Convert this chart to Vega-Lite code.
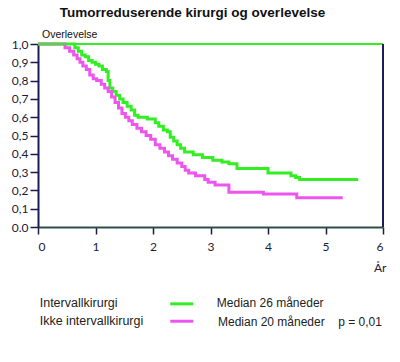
{
  "$schema": "https://vega.github.io/schema/vega-lite/v6.json",
  "width": 345,
  "height": 183,
  "autosize": {"type": "none"},
  "padding": {"left": 38, "top": 44, "right": 17, "bottom": 135},
  "background": "white",
  "title": {
    "text": "Tumorreduserende kirurgi og overlevelse",
    "font": "Liberation Sans",
    "fontSize": 13.5,
    "fontWeight": "bold",
    "color": "#111111",
    "anchor": "middle",
    "frame": "group",
    "baseline": "bottom",
    "offset": -3,
    "dx": -18
  },
  "config": {
    "view": {"stroke": null},
    "axis": {"grid": false, "labelOverlap": false, "title": null, "tickWidth": 1.5, "domainWidth": 2, "labelFont": "Lato", "labelFontSize": 12, "labelColor": "#1b1b3a", "tickColor": "#1b1b4a"},
    "axisX": {"domainColor": "#2a5048", "tickSize": 7, "labelPadding": 7},
    "axisY": {"domainColor": "#1b1b5a", "tickSize": 8, "labelPadding": 2}
  },
  "datasets": {
    "curves": [
      {"group": "Intervallkirurgi", "t": 0, "s": 1.0},
      {"group": "Intervallkirurgi", "t": 0.64, "s": 0.98},
      {"group": "Intervallkirurgi", "t": 0.70, "s": 0.96},
      {"group": "Intervallkirurgi", "t": 0.76, "s": 0.94},
      {"group": "Intervallkirurgi", "t": 0.82, "s": 0.93},
      {"group": "Intervallkirurgi", "t": 0.88, "s": 0.91},
      {"group": "Intervallkirurgi", "t": 0.94, "s": 0.90},
      {"group": "Intervallkirurgi", "t": 1.00, "s": 0.89},
      {"group": "Intervallkirurgi", "t": 1.06, "s": 0.88},
      {"group": "Intervallkirurgi", "t": 1.12, "s": 0.86},
      {"group": "Intervallkirurgi", "t": 1.19, "s": 0.85},
      {"group": "Intervallkirurgi", "t": 1.22, "s": 0.80},
      {"group": "Intervallkirurgi", "t": 1.25, "s": 0.76},
      {"group": "Intervallkirurgi", "t": 1.30, "s": 0.74},
      {"group": "Intervallkirurgi", "t": 1.36, "s": 0.72},
      {"group": "Intervallkirurgi", "t": 1.42, "s": 0.70},
      {"group": "Intervallkirurgi", "t": 1.48, "s": 0.68},
      {"group": "Intervallkirurgi", "t": 1.55, "s": 0.66},
      {"group": "Intervallkirurgi", "t": 1.62, "s": 0.64},
      {"group": "Intervallkirurgi", "t": 1.68, "s": 0.61},
      {"group": "Intervallkirurgi", "t": 1.74, "s": 0.60},
      {"group": "Intervallkirurgi", "t": 1.90, "s": 0.59},
      {"group": "Intervallkirurgi", "t": 2.04, "s": 0.57},
      {"group": "Intervallkirurgi", "t": 2.10, "s": 0.55},
      {"group": "Intervallkirurgi", "t": 2.18, "s": 0.53},
      {"group": "Intervallkirurgi", "t": 2.25, "s": 0.52},
      {"group": "Intervallkirurgi", "t": 2.30, "s": 0.49},
      {"group": "Intervallkirurgi", "t": 2.36, "s": 0.47},
      {"group": "Intervallkirurgi", "t": 2.42, "s": 0.45},
      {"group": "Intervallkirurgi", "t": 2.48, "s": 0.43},
      {"group": "Intervallkirurgi", "t": 2.55, "s": 0.41},
      {"group": "Intervallkirurgi", "t": 2.70, "s": 0.395},
      {"group": "Intervallkirurgi", "t": 2.86, "s": 0.38},
      {"group": "Intervallkirurgi", "t": 3.04, "s": 0.365},
      {"group": "Intervallkirurgi", "t": 3.20, "s": 0.355},
      {"group": "Intervallkirurgi", "t": 3.32, "s": 0.345},
      {"group": "Intervallkirurgi", "t": 3.46, "s": 0.32},
      {"group": "Intervallkirurgi", "t": 4.00, "s": 0.295},
      {"group": "Intervallkirurgi", "t": 4.40, "s": 0.28},
      {"group": "Intervallkirurgi", "t": 4.48, "s": 0.27},
      {"group": "Intervallkirurgi", "t": 4.55, "s": 0.26},
      {"group": "Intervallkirurgi", "t": 5.57, "s": 0.26},
      {"group": "Ikke intervallkirurgi", "t": 0, "s": 1.0},
      {"group": "Ikke intervallkirurgi", "t": 0.47, "s": 0.98},
      {"group": "Ikke intervallkirurgi", "t": 0.55, "s": 0.96},
      {"group": "Ikke intervallkirurgi", "t": 0.62, "s": 0.94},
      {"group": "Ikke intervallkirurgi", "t": 0.68, "s": 0.92},
      {"group": "Ikke intervallkirurgi", "t": 0.73, "s": 0.90},
      {"group": "Ikke intervallkirurgi", "t": 0.78, "s": 0.88},
      {"group": "Ikke intervallkirurgi", "t": 0.84, "s": 0.86},
      {"group": "Ikke intervallkirurgi", "t": 0.90, "s": 0.83},
      {"group": "Ikke intervallkirurgi", "t": 0.96, "s": 0.81},
      {"group": "Ikke intervallkirurgi", "t": 1.02, "s": 0.80},
      {"group": "Ikke intervallkirurgi", "t": 1.10, "s": 0.78},
      {"group": "Ikke intervallkirurgi", "t": 1.16, "s": 0.76},
      {"group": "Ikke intervallkirurgi", "t": 1.22, "s": 0.74},
      {"group": "Ikke intervallkirurgi", "t": 1.28, "s": 0.71},
      {"group": "Ikke intervallkirurgi", "t": 1.34, "s": 0.68},
      {"group": "Ikke intervallkirurgi", "t": 1.40, "s": 0.65},
      {"group": "Ikke intervallkirurgi", "t": 1.46, "s": 0.62},
      {"group": "Ikke intervallkirurgi", "t": 1.52, "s": 0.60},
      {"group": "Ikke intervallkirurgi", "t": 1.58, "s": 0.58},
      {"group": "Ikke intervallkirurgi", "t": 1.64, "s": 0.56},
      {"group": "Ikke intervallkirurgi", "t": 1.72, "s": 0.54},
      {"group": "Ikke intervallkirurgi", "t": 1.80, "s": 0.52},
      {"group": "Ikke intervallkirurgi", "t": 1.88, "s": 0.50},
      {"group": "Ikke intervallkirurgi", "t": 1.96, "s": 0.48},
      {"group": "Ikke intervallkirurgi", "t": 2.04, "s": 0.45},
      {"group": "Ikke intervallkirurgi", "t": 2.12, "s": 0.43},
      {"group": "Ikke intervallkirurgi", "t": 2.20, "s": 0.41},
      {"group": "Ikke intervallkirurgi", "t": 2.27, "s": 0.39},
      {"group": "Ikke intervallkirurgi", "t": 2.34, "s": 0.37},
      {"group": "Ikke intervallkirurgi", "t": 2.42, "s": 0.35},
      {"group": "Ikke intervallkirurgi", "t": 2.50, "s": 0.33},
      {"group": "Ikke intervallkirurgi", "t": 2.56, "s": 0.31},
      {"group": "Ikke intervallkirurgi", "t": 2.62, "s": 0.295},
      {"group": "Ikke intervallkirurgi", "t": 2.74, "s": 0.28},
      {"group": "Ikke intervallkirurgi", "t": 2.90, "s": 0.26},
      {"group": "Ikke intervallkirurgi", "t": 2.96, "s": 0.245},
      {"group": "Ikke intervallkirurgi", "t": 3.08, "s": 0.23},
      {"group": "Ikke intervallkirurgi", "t": 3.32, "s": 0.19},
      {"group": "Ikke intervallkirurgi", "t": 3.92, "s": 0.18},
      {"group": "Ikke intervallkirurgi", "t": 4.50, "s": 0.16},
      {"group": "Ikke intervallkirurgi", "t": 5.30, "s": 0.16}
    ],
    "one": [{}]
  },
  "layer": [
    {
      "data": {"name": "curves"},
      "mark": {"type": "line", "interpolate": "step-after", "strokeWidth": 3},
      "encoding": {
        "x": {
          "field": "t", "type": "quantitative",
          "scale": {"domain": [0, 6], "nice": false},
          "axis": {"values": [0, 1, 2, 3, 4, 5, 6], "format": "d"}
        },
        "y": {
          "field": "s", "type": "quantitative",
          "scale": {"domain": [0, 1], "nice": false},
          "axis": {
            "values": [0, 0.1, 0.2, 0.3, 0.4, 0.5, 0.6, 0.7, 0.8, 0.9, 1.0],
            "labelExpr": "datum.value == 0 ? '0.0' : replace(format(datum.value, '.1f'), '.', ',')"
          }
        },
        "color": {
          "field": "group", "type": "nominal",
          "scale": {"domain": ["Intervallkirurgi", "Ikke intervallkirurgi"], "range": ["#33ee22", "#ee55ee"]},
          "legend": null
        }
      }
    },
    {
      "data": {"name": "one"},
      "mark": {"type": "rule", "color": "#33ee22", "strokeWidth": 2},
      "encoding": {
        "x": {"datum": 0, "axis": {"values": [0, 1, 2, 3, 4, 5, 6], "format": "d"}},
        "x2": {"datum": 6},
        "y": {"datum": 1, "axis": {"values": [0, 0.1, 0.2, 0.3, 0.4, 0.5, 0.6, 0.7, 0.8, 0.9, 1.0], "labelExpr": "datum.value == 0 ? '0.0' : replace(format(datum.value, '.1f'), '.', ',')"}}
      }
    },
    {
      "data": {"name": "one"},
      "mark": {"type": "rule", "color": "#1b1b5a", "strokeWidth": 2},
      "encoding": {
        "x": {"datum": 6, "axis": {"values": [0, 1, 2, 3, 4, 5, 6], "format": "d"}},
        "y": {"datum": 0, "axis": {"values": [0, 0.1, 0.2, 0.3, 0.4, 0.5, 0.6, 0.7, 0.8, 0.9, 1.0], "labelExpr": "datum.value == 0 ? '0.0' : replace(format(datum.value, '.1f'), '.', ',')"}},
        "y2": {"datum": 1}
      }
    },
    {
      "data": {"name": "one"},
      "mark": {"type": "text", "text": "Overlevelse", "font": "Liberation Sans", "fontSize": 10.5, "align": "left", "baseline": "middle", "color": "#111111"},
      "encoding": {
        "x": {"datum": 0.07, "axis": {"values": [0, 1, 2, 3, 4, 5, 6], "format": "d"}},
        "y": {"datum": 1.049, "axis": {"values": [0, 0.1, 0.2, 0.3, 0.4, 0.5, 0.6, 0.7, 0.8, 0.9, 1.0], "labelExpr": "datum.value == 0 ? '0.0' : replace(format(datum.value, '.1f'), '.', ',')"}}
      }
    },
    {
      "data": {"name": "one"},
      "mark": {"type": "text", "text": "År", "font": "Lato", "fontSize": 12, "align": "center", "baseline": "middle", "color": "#1b1b3a"},
      "encoding": {
        "x": {"datum": 5.95, "axis": {"values": [0, 1, 2, 3, 4, 5, 6], "format": "d"}},
        "y": {"datum": -0.224, "axis": {"values": [0, 0.1, 0.2, 0.3, 0.4, 0.5, 0.6, 0.7, 0.8, 0.9, 1.0], "labelExpr": "datum.value == 0 ? '0.0' : replace(format(datum.value, '.1f'), '.', ',')"}}
      }
    },
    {
      "data": {"name": "one"},
      "mark": {"type": "text", "text": "Intervallkirurgi", "font": "Liberation Sans", "fontSize": 12.5, "align": "left", "baseline": "middle", "color": "#222222"},
      "encoding": {
        "x": {"datum": 0.03, "axis": {"values": [0, 1, 2, 3, 4, 5, 6], "format": "d"}},
        "y": {"datum": -0.415, "axis": {"values": [0, 0.1, 0.2, 0.3, 0.4, 0.5, 0.6, 0.7, 0.8, 0.9, 1.0], "labelExpr": "datum.value == 0 ? '0.0' : replace(format(datum.value, '.1f'), '.', ',')"}}
      }
    },
    {
      "data": {"name": "one"},
      "mark": {"type": "text", "text": "Ikke intervallkirurgi", "font": "Liberation Sans", "fontSize": 12.5, "align": "left", "baseline": "middle", "color": "#222222"},
      "encoding": {
        "x": {"datum": 0.03, "axis": {"values": [0, 1, 2, 3, 4, 5, 6], "format": "d"}},
        "y": {"datum": -0.515, "axis": {"values": [0, 0.1, 0.2, 0.3, 0.4, 0.5, 0.6, 0.7, 0.8, 0.9, 1.0], "labelExpr": "datum.value == 0 ? '0.0' : replace(format(datum.value, '.1f'), '.', ',')"}}
      }
    },
    {
      "data": {"name": "one"},
      "mark": {"type": "rule", "color": "#33ee22", "strokeWidth": 3},
      "encoding": {
        "x": {"datum": 2.3, "axis": {"values": [0, 1, 2, 3, 4, 5, 6], "format": "d"}},
        "x2": {"datum": 2.7},
        "y": {"datum": -0.42, "axis": {"values": [0, 0.1, 0.2, 0.3, 0.4, 0.5, 0.6, 0.7, 0.8, 0.9, 1.0], "labelExpr": "datum.value == 0 ? '0.0' : replace(format(datum.value, '.1f'), '.', ',')"}}
      }
    },
    {
      "data": {"name": "one"},
      "mark": {"type": "rule", "color": "#ee55ee", "strokeWidth": 3},
      "encoding": {
        "x": {"datum": 2.3, "axis": {"values": [0, 1, 2, 3, 4, 5, 6], "format": "d"}},
        "x2": {"datum": 2.7},
        "y": {"datum": -0.515, "axis": {"values": [0, 0.1, 0.2, 0.3, 0.4, 0.5, 0.6, 0.7, 0.8, 0.9, 1.0], "labelExpr": "datum.value == 0 ? '0.0' : replace(format(datum.value, '.1f'), '.', ',')"}}
      }
    },
    {
      "data": {"name": "one"},
      "mark": {"type": "text", "text": "Median 26 måneder", "font": "Liberation Sans", "fontSize": 12, "align": "left", "baseline": "middle", "color": "#222222"},
      "encoding": {
        "x": {"datum": 3.11, "axis": {"values": [0, 1, 2, 3, 4, 5, 6], "format": "d"}},
        "y": {"datum": -0.415, "axis": {"values": [0, 0.1, 0.2, 0.3, 0.4, 0.5, 0.6, 0.7, 0.8, 0.9, 1.0], "labelExpr": "datum.value == 0 ? '0.0' : replace(format(datum.value, '.1f'), '.', ',')"}}
      }
    },
    {
      "data": {"name": "one"},
      "mark": {"type": "text", "text": "Median 20 måneder", "font": "Liberation Sans", "fontSize": 12, "align": "left", "baseline": "middle", "color": "#222222"},
      "encoding": {
        "x": {"datum": 3.13, "axis": {"values": [0, 1, 2, 3, 4, 5, 6], "format": "d"}},
        "y": {"datum": -0.52, "axis": {"values": [0, 0.1, 0.2, 0.3, 0.4, 0.5, 0.6, 0.7, 0.8, 0.9, 1.0], "labelExpr": "datum.value == 0 ? '0.0' : replace(format(datum.value, '.1f'), '.', ',')"}}
      }
    },
    {
      "data": {"name": "one"},
      "mark": {"type": "text", "text": "p = 0,01", "font": "Liberation Sans", "fontSize": 12, "align": "left", "baseline": "middle", "color": "#222222"},
      "encoding": {
        "x": {"datum": 5.22, "axis": {"values": [0, 1, 2, 3, 4, 5, 6], "format": "d"}},
        "y": {"datum": -0.52, "axis": {"values": [0, 0.1, 0.2, 0.3, 0.4, 0.5, 0.6, 0.7, 0.8, 0.9, 1.0], "labelExpr": "datum.value == 0 ? '0.0' : replace(format(datum.value, '.1f'), '.', ',')"}}
      }
    }
  ]
}
